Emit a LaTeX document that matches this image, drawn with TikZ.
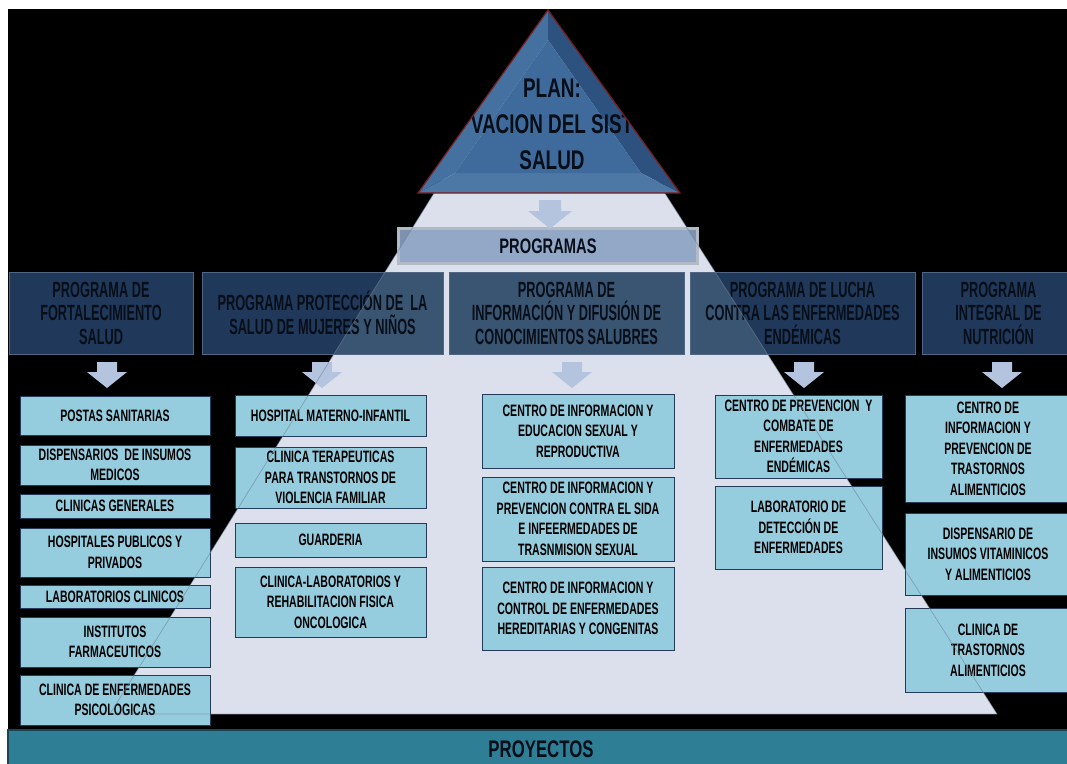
\documentclass[tikz,border=0pt]{standalone}
\usepackage{fontspec}
\usetikzlibrary{positioning}
\newfontfamily\agency[FakeStretch=0.64]{Liberation Sans}
\newfontfamily\hdrfont[FakeStretch=0.58]{Liberation Sans}
\newfontfamily\planfont[FakeStretch=0.7]{Liberation Sans}
\definecolor{pyrlight}{RGB}{219,224,236}
\definecolor{boxblue}{RGB}{150,205,222}
\definecolor{boxedge}{RGB}{35,58,88}
\definecolor{hdrblue}{RGB}{32,57,90}
\definecolor{hdrmix}{RGB}{58,85,114}
\definecolor{hdredge}{RGB}{80,102,130}
\definecolor{hdrtext}{RGB}{8,14,24}
\definecolor{arrowc}{RGB}{180,196,222}
\definecolor{barblue}{RGB}{140,162,196}
\definecolor{barframe}{RGB}{178,186,198}
\definecolor{tealbar}{RGB}{46,127,150}
\definecolor{planblue}{RGB}{62,107,155}
\definecolor{planlight}{RGB}{68,113,160}
\definecolor{plandark}{RGB}{45,82,128}
\definecolor{planred}{RGB}{122,28,28}
\definecolor{edgeline}{RGB}{110,128,150}

\tikzset{
  box/.style={preaction={draw=boxedge, line width=1, fill=boxblue}, inner sep=0, align=center, text=black,
    font=\agency\bfseries\fontsize{16.5}{20.5}\selectfont},
  header/.style={inner sep=0, align=center, text=hdrtext, minimum height=82,
    font=\hdrfont\bfseries\fontsize{22}{23.5}\selectfont},
  darrow/.pic={\fill[arrowc] (-10,0) -- (10,0) -- (10,10) -- (20,10) -- (0,26) -- (-20,10) -- (-10,10) -- cycle;}
}

\begin{document}
\begin{tikzpicture}[x=1pt, y=-1pt]
    \useasboundingbox (0,0) rectangle (1067,763);
    \clip (0,0) rectangle (1067,763);
    \fill [white] (0,0) rectangle (1067,763);
    \fill [black] (8,9) rectangle (1067,763);
    \fill [pyrlight] (548,10) -- (110,714) -- (997,714) -- cycle;

    % proyectos
    \draw [fill=tealbar, draw=tealbar!55!black, line width=1.2] (8,730) rectangle (1080,780);
    \node [anchor=base, text=hdrtext, inner sep=0, font=\planfont\bfseries\fontsize{24}{24}\selectfont] (proy) at (541,757) {PROYECTOS};

    % header panels, lighter where the pyramid shows through
    \foreach \xa/\xb in {9/193, 202/443, 449/684, 690/915, 922/1075} {
      \fill [hdrblue] (\xa,272) rectangle (\xb,354);
      \begin{scope}
        \clip (548,10) -- (110,714) -- (997,714) -- cycle;
        \fill [hdrmix] (\xa,272) rectangle (\xb,354);
      \end{scope}
      \draw [hdredge, line width=0.8] (\xa,272) rectangle (\xb,354);
    }
    \node [header, minimum width=184] (prog1) at (101,313) {PROGRAMA DE\\FORTALECIMIENTO\\SALUD};
    \node [header, minimum width=241] (prog2) at (322.5,313) {PROGRAMA PROTECCIÓN DE\ \ LA\\SALUD DE MUJERES Y NIÑOS};
    \node [header, minimum width=235] (prog3) at (566.5,313) {PROGRAMA DE\\INFORMACIÓN Y DIFUSIÓN DE\\CONOCIMIENTOS SALUBRES};
    \node [header, minimum width=225] (prog4) at (802.5,313) {PROGRAMA DE LUCHA\\CONTRA LAS ENFERMEDADES\\ENDÉMICAS};
    \node [header, minimum width=153] (prog5) at (998.5,313) {PROGRAMA\\INTEGRAL DE\\NUTRICIÓN};

    \node [box, minimum width=190, minimum height=39] (postas) at (115,415.5) {POSTAS SANITARIAS};
    \node [box, minimum width=190, minimum height=40] (dispmed) at (115,465) {DISPENSARIOS\ \ DE INSUMOS\\MEDICOS};
    \node [box, minimum width=190, minimum height=24] (clingen) at (115,506) {CLINICAS GENERALES};
    \node [box, minimum width=190, minimum height=49] (hosp) at (115,552.5) {HOSPITALES PUBLICOS Y\\PRIVADOS};
    \node [box, minimum width=190, minimum height=23] (labclin) at (115,596.5) {LABORATORIOS CLINICOS};
    \node [box, minimum width=190, minimum height=50] (farma) at (115,642) {INSTITUTOS\\FARMACEUTICOS};
    \node [box, minimum width=190, minimum height=50] (psico) at (115,700) {CLINICA DE ENFERMEDADES\\PSICOLOGICAS};

    \node [box, minimum width=191, minimum height=41] (materno) at (330.5,415.5) {HOSPITAL MATERNO-INFANTIL};
    \node [box, minimum width=191, minimum height=61] (terap) at (330.5,477.5) {CLINICA TERAPEUTICAS\\PARA TRANSTORNOS DE\\VIOLENCIA FAMILIAR};
    \node [box, minimum width=191, minimum height=34] (guard) at (330.5,540) {GUARDERIA};
    \node [box, minimum width=191, minimum height=70] (onco) at (330.5,602) {CLINICA-LABORATORIOS Y\\REHABILITACION FISICA\\ONCOLOGICA};

    \node [box, minimum width=192, minimum height=74] (edusex) at (578,431) {CENTRO DE INFORMACION Y\\EDUCACION SEXUAL Y\\REPRODUCTIVA};
    \node [box, minimum width=192, minimum height=84] (sida) at (578,519) {CENTRO DE INFORMACION Y\\PREVENCION CONTRA EL SIDA\\E INFEERMEDADES DE\\TRASNMISION SEXUAL};
    \node [box, minimum width=192, minimum height=83] (hered) at (578,608.5) {CENTRO DE INFORMACION Y\\CONTROL DE ENFERMEDADES\\HEREDITARIAS Y CONGENITAS};

    \node [box, minimum width=167, minimum height=83] (combate) at (798.5,436.5) {CENTRO DE PREVENCION\ \ Y\\COMBATE DE\\ENFERMEDADES\\ENDÉMICAS};
    \node [box, minimum width=167, minimum height=83] (labdet) at (798.5,527.5) {LABORATORIO DE\\DETECCIÓN DE\\ENFERMEDADES};

    \node [box, minimum width=166, minimum height=107] (trast) at (988,448.5) {CENTRO DE\\INFORMACION Y\\PREVENCION DE\\TRASTORNOS\\ALIMENTICIOS};
    \node [box, minimum width=166, minimum height=82] (vitam) at (988,554) {DISPENSARIO DE\\INSUMOS VITAMINICOS\\Y ALIMENTICIOS};
    \node [box, minimum width=166, minimum height=84] (clintr) at (988,650) {CLINICA DE\\TRASTORNOS\\ALIMENTICIOS};

    \node [preaction={draw=barframe, line width=3, fill=barblue, fill opacity=0.9}, inner sep=0,
      minimum width=299, minimum height=35, text=hdrtext,
      font=\planfont\bfseries\fontsize{21}{21}\selectfont] (programas) at (548,246) {PROGRAMAS};

    \foreach \ax in {107, 322, 572, 804, 1002}
      \pic at (\ax,362) {darrow};
    \pic [scale=1.1] at (550,200) {darrow};

    \draw [edgeline, opacity=0.55, line width=0.8] (548,10) -- (110,714) -- (997,714) -- cycle;

    % plan
    \fill [planlight] (548,10) -- (418,193) -- (455,173) -- (548,40) -- cycle;
    \fill [plandark] (548,10) -- (548,40) -- (641,173) -- (680,193) -- cycle;
    \fill [planlight!95!white] (418,193) -- (680,193) -- (641,173) -- (455,173) -- cycle;
    \fill [planblue] (548,40) -- (455,173) -- (641,173) -- cycle;
    \begin{scope}
      \clip (548,10) -- (418,193) -- (680,193) -- cycle;
      \node [align=center, text=hdrtext, inner sep=0, font=\planfont\bfseries\fontsize{27}{36}\selectfont] (plan) at (552,124) {PLAN:\\VACION DEL SIST\\SALUD};
    \end{scope}
    \draw [planred, line width=1.2] (548,10) -- (418,193) -- (680,193) -- cycle;
\end{tikzpicture}
\end{document}
